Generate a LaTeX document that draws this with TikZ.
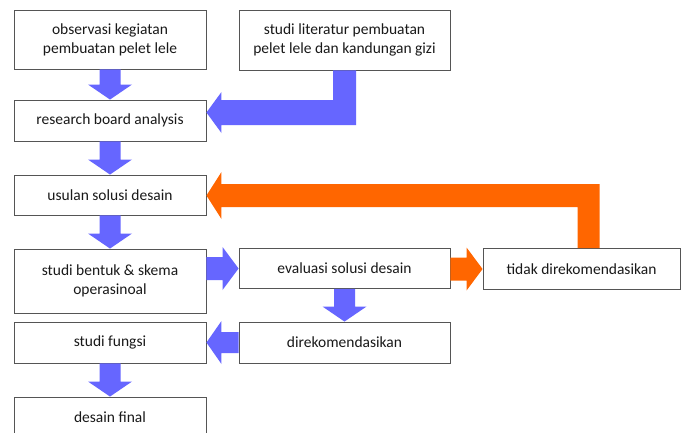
\documentclass[tikz,border=0pt]{standalone}
\usepackage{fontspec}
\setmainfont{Carlito}
\usetikzlibrary{calc}
\definecolor{blk}{HTML}{6666FF}
\definecolor{org}{HTML}{FF6600}
\definecolor{boxc}{HTML}{555555}
\tikzset{box/.style={draw=boxc, line width=0.9pt, fill=white, text=black!90, align=center, inner sep=2pt,
  font=\fontsize{15.5}{19}\selectfont}}
\newcommand\blkdown[3]{%
 \fill[#1] let \p1=(#2.south), \p2=(#3.north) in
 (\x1-10.5pt,\y1) -- (\x1+10.5pt,\y1) -- (\x1+10.5pt,\y2+15pt) -- (\x1+22pt,\y2+15pt) --
 (\x1,\y2) -- (\x1-22pt,\y2+15pt) -- (\x1-10.5pt,\y2+15pt) -- cycle;}
\newcommand\blkright[3]{%
 \fill[#1] let \p1=(#2.east |- #3.west), \p2=(#3.west) in
 (\x1,\y2+11.5pt) -- (\x2-16pt,\y2+11.5pt) -- (\x2-16pt,\y2+21.5pt) -- (\x2,\y2) --
 (\x2-16pt,\y2-21.5pt) -- (\x2-16pt,\y2-11.5pt) -- (\x1,\y2-11.5pt) -- cycle;}
\newcommand\blkleft[3]{%
 \fill[#1] let \p1=(#2.west), \p2=(#3.east |- #2.west) in
 (\x1,\y1+10.5pt) -- (\x2+15pt,\y1+10.5pt) -- (\x2+15pt,\y1+21.5pt) -- (\x2,\y1) --
 (\x2+15pt,\y1-21.5pt) -- (\x2+15pt,\y1-10.5pt) -- (\x1,\y1-10.5pt) -- cycle;}
\begin{document}
\begin{tikzpicture}[x=1pt,y=-1pt]
\clip (0,0) rectangle (681,432);
\fill[white] (0,0) rectangle (681,432);
\node[box, minimum width=192pt, minimum height=59pt] (obs) at (110,39.5) {observasi kegiatan\\pembuatan pelet lele};
\node[box, minimum width=211pt, minimum height=60pt] (lit) at (344.5,40) {studi literatur pembuatan\\pelet lele dan kandungan gizi};
\node[box, minimum width=192pt, minimum height=41pt] (rba) at (110,120.5) {research board analysis};
\node[box, minimum width=192pt, minimum height=40pt] (usul) at (110,195) {usulan solusi desain};
\node[box, minimum width=192pt, minimum height=64pt] (bentuk) at (110,281) {studi bentuk \& skema\\operasinoal};
\node[box, minimum width=211pt, minimum height=40pt] (eval) at (344.5,268.5) {evaluasi solusi desain};
\node[box, minimum width=197pt, minimum height=41pt] (tidak) at (581.5,269) {tidak direkomendasikan};
\node[box, minimum width=192pt, minimum height=41pt] (fungsi) at (110,342.5) {studi fungsi};
\node[box, minimum width=211pt, minimum height=41pt] (direk) at (344.5,342.5) {direkomendasikan};
\node[box, minimum width=192pt, minimum height=40pt] (final) at (110,417) {desain final};
\coordinate (litturn) at (344.5,112.5);
\coordinate (tidturn) at (588.5,195.5);
% connectors
\blkdown{blk}{obs}{rba}
\blkdown{blk}{rba}{usul}
\blkdown{blk}{usul}{bentuk}
\blkdown{blk}{eval}{direk}
\blkdown{blk}{fungsi}{final}
\blkright{blk}{bentuk}{eval}
\blkright{org}{eval}{tidak}
\blkleft{blk}{direk}{fungsi}
% L-shaped: literatur -> research board analysis
\fill[blk] let \p1=(lit.south -| litturn), \p2=(litturn), \p3=(rba.east |- litturn) in
 (\x1-11.5pt,\y1) -- (\x1+11.5pt,\y1) -- (\x1+11.5pt,\y2-12.5pt) -- (\x3+15pt,\y2-12.5pt) --
 (\x3+15pt,\y2-20.5pt) -- (\x3,\y2) -- (\x3+15pt,\y2+20.5pt) -- (\x3+15pt,\y2+12.5pt) --
 (\x1-11.5pt,\y2+12.5pt) -- cycle;
% L-shaped: tidak direkomendasikan -> usulan solusi desain
\fill[org] let \p1=(tidak.north -| tidturn), \p2=(tidturn), \p3=(usul.east |- tidturn) in
 (\x1-11pt,\y1) -- (\x1-11pt,\y2-11.5pt) -- (\x3+15pt,\y2-11.5pt) -- (\x3+15pt,\y2-23.5pt) --
 (\x3,\y2) -- (\x3+15pt,\y2+23.5pt) -- (\x3+15pt,\y2+11.5pt) -- (\x1+11pt,\y2+11.5pt) --
 (\x1+11pt,\y1) -- cycle;
\end{tikzpicture}
\end{document}
